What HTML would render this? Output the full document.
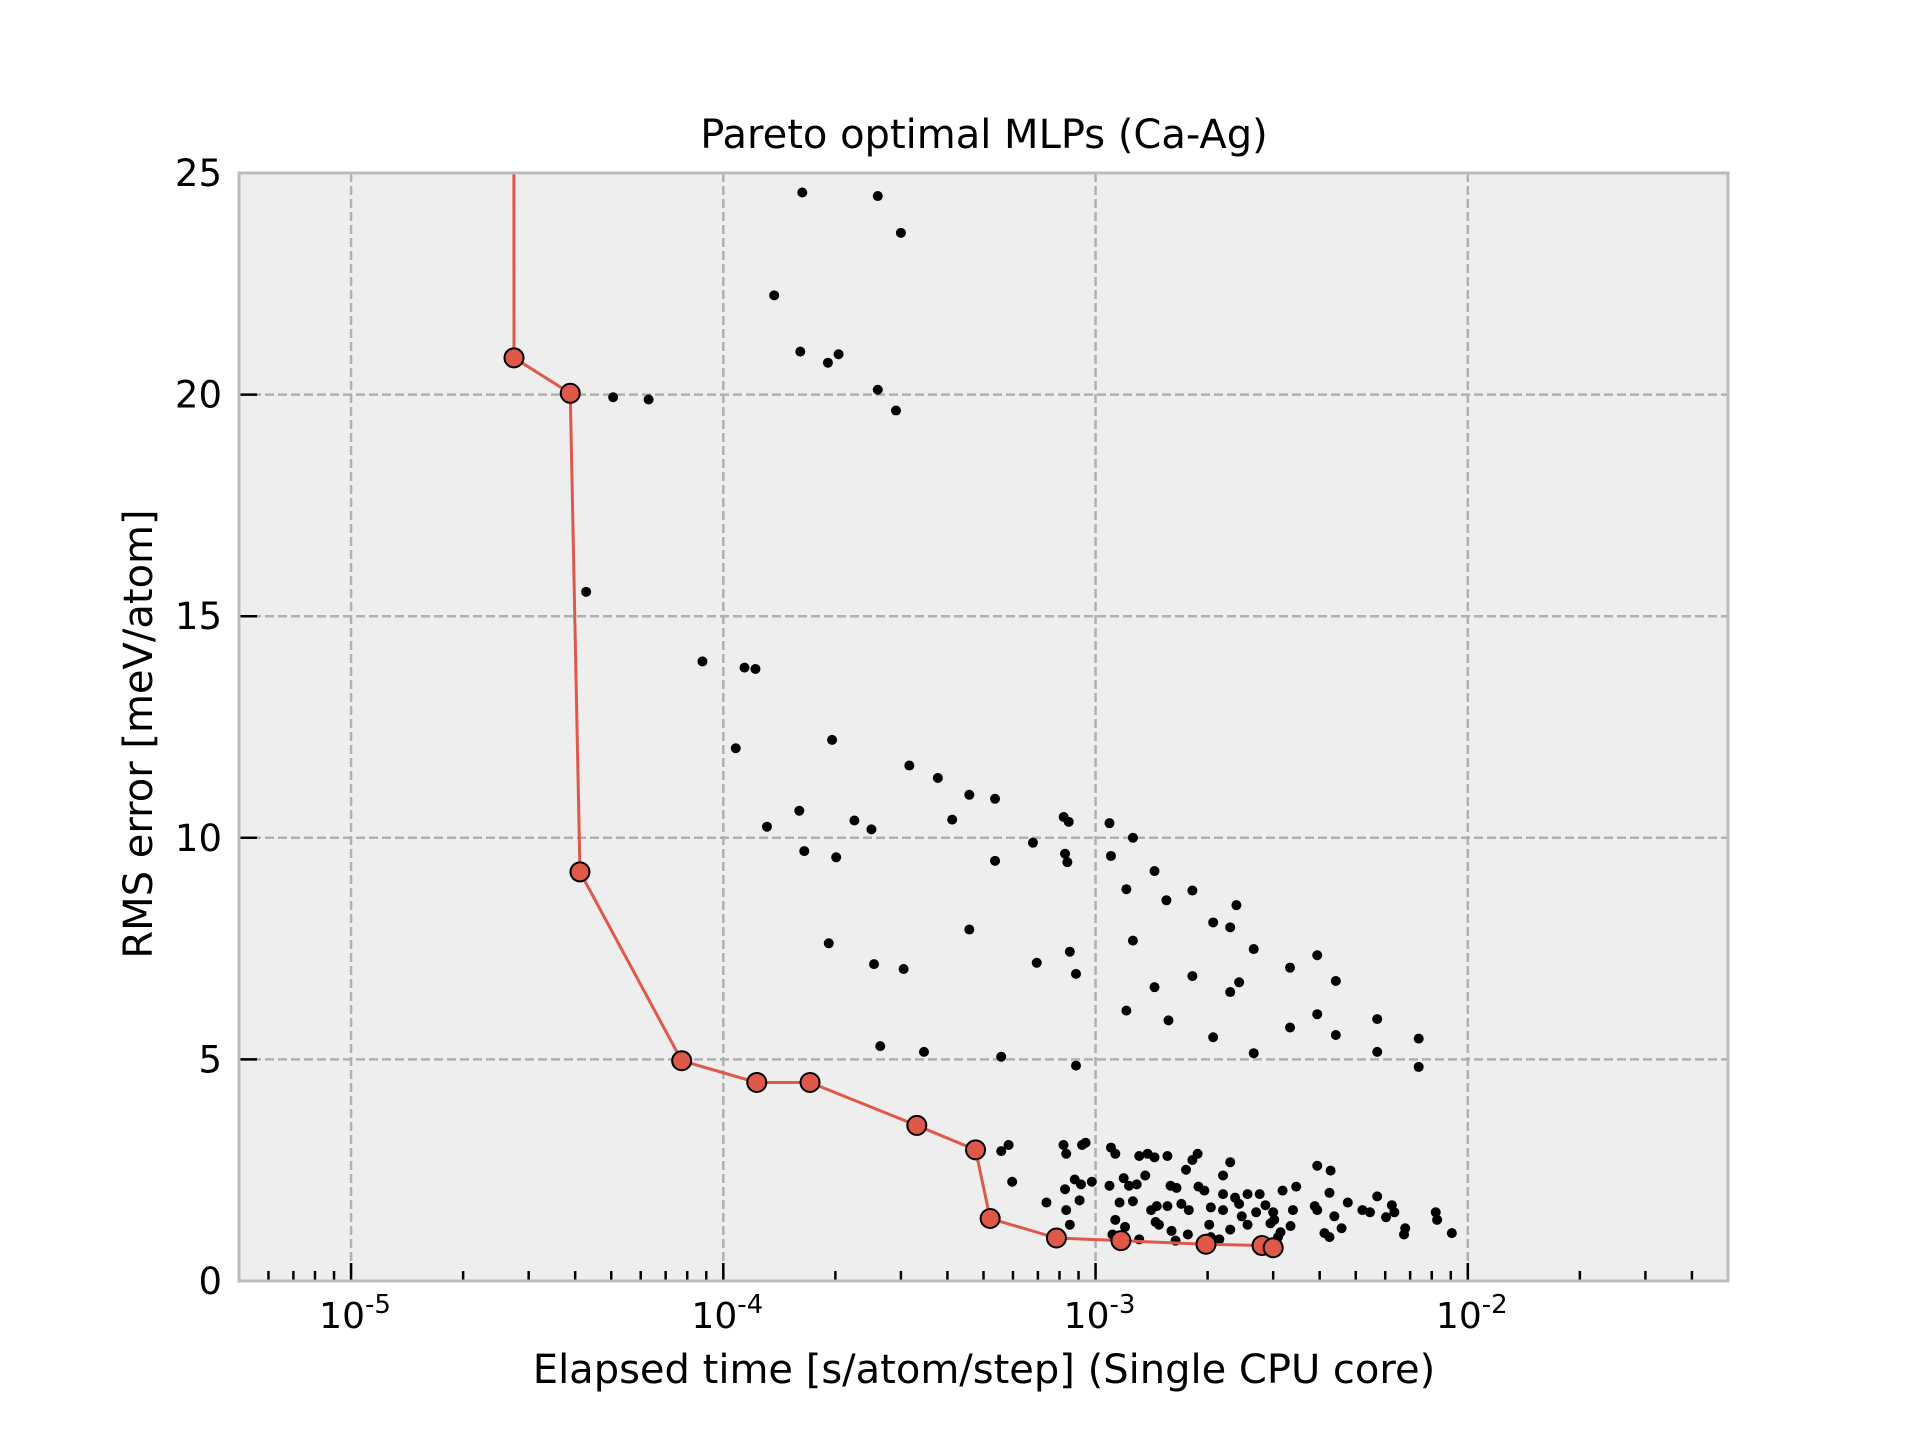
<!DOCTYPE html>
<html><head><meta charset="utf-8"><style>
html,body{margin:0;padding:0;background:#fff;}
svg text{font-family:"DejaVu Sans","Liberation Sans",sans-serif;fill:#000;}
</style></head><body>
<svg id="chart" width="1920" height="1440" xmlns="http://www.w3.org/2000/svg">
<rect x="239" y="173" width="1489" height="1108" fill="#eeeeee"/>
<g id="grid"></g>
<g id="ticks"></g>
<g id="marks" clip-path="url(#clip)"></g>
<defs><clipPath id="clip"><rect x="239" y="173" width="1489" height="1108"/></clipPath></defs>
<rect x="239" y="173" width="1489" height="1108" fill="none" stroke="#bcbcbc" stroke-width="3"/>
<g id="labels"></g>
<text x="984" y="148" font-size="40" text-anchor="middle">Pareto optimal MLPs (Ca-Ag)</text>
<text x="984" y="1383" font-size="40" text-anchor="middle">Elapsed time [s/atom/step] (Single CPU core)</text>
<text x="0" y="0" font-size="40" text-anchor="middle" transform="translate(152,734) rotate(-90)">RMS error [meV/atom]</text>
</svg>
<script>
const yTicks=[0,5,10,15,20,25];
const xDecades=[-5,-4,-3,-2];
const paretoTime=[2.72e-5,2.74e-5,3.88e-5,4.12e-5,7.73e-5,1.23e-4,1.71e-4,3.31e-4,4.76e-4,5.21e-4,7.85e-4,1.17e-3,1.98e-3,2.80e-3,3.0e-3];
const paretoErr=[60,20.83,20.03,9.23,4.97,4.48,4.48,3.51,2.96,1.41,0.97,0.91,0.83,0.80,0.75];
const scatterTime=[1.63e-4,2.60e-4,3.0e-4,1.37e-4,1.61e-4,2.04e-4,1.91e-4,2.60e-4,2.91e-4,5.06e-5,6.30e-5,4.28e-5,8.79e-5,1.14e-4,1.22e-4,1.08e-4,1.96e-4,3.16e-4,3.77e-4,4.58e-4,5.37e-4,1.60e-4,1.31e-4,2.25e-4,2.50e-4,4.12e-4,8.21e-4,8.47e-4,1.09e-3,1.26e-3,1.65e-4,2.01e-4,5.37e-4,6.79e-4,8.28e-4,8.40e-4,1.10e-3,1.44e-3,1.21e-3,1.82e-3,1.55e-3,2.39e-3,2.07e-3,2.30e-3,1.92e-4,4.58e-4,1.26e-3,2.66e-3,8.53e-4,3.94e-3,6.95e-4,2.54e-4,3.05e-4,3.33e-3,8.86e-4,1.82e-3,2.43e-3,4.42e-3,1.44e-3,2.30e-3,1.21e-3,3.94e-3,1.57e-3,5.71e-3,3.33e-3,4.42e-3,2.07e-3,7.38e-3,2.64e-4,3.46e-4,2.66e-3,5.71e-3,5.58e-4,7.38e-3,8.86e-4,
5.84e-4,5.58e-4,8.20e-4,9.20e-4,9.4e-4,1.10e-3,1.13e-3,8.34e-4,1.31e-3,1.38e-3,1.44e-3,1.56e-3,1.88e-3,1.82e-3,2.30e-3,2.76e-3,5.97e-4,8.28e-4,8.79e-4,9.14e-4,9.77e-4,1.09e-3,1.19e-3,1.23e-3,1.29e-3,1.36e-3,1.59e-3,1.65e-3,1.89e-3,1.96e-3,2.20e-3,3.18e-3,3.46e-3,3.94e-3,4.28e-3,4.25e-3,4.76e-3,5.71e-3,6.25e-3,6.03e-3,6.79e-3,8.20e-3,8.27e-3,9.06e-3,6.74e-3,7.38e-4,8.34e-4,9.06e-4,1.13e-3,1.16e-3,1.26e-3,1.41e-3,1.46e-3,1.56e-3,1.70e-3,1.78e-3,2.04e-3,2.20e-3,2.43e-3,2.86e-3,3.00e-3,3.39e-3,3.94e-3,4.38e-3,4.58e-3,5.21e-3,6.35e-3,1.11e-3,1.20e-3,1.48e-3,1.60e-3,1.77e-3,2.02e-3,2.30e-3,2.56e-3,2.95e-3,3.14e-3,3.34e-3,4.12e-3,5.46e-3,3.88e-3,4.25e-3,8.53e-4,1.31e-3,1.64e-3,2.15e-3,3.09e-3,2.04e-3,2.47e-3,2.70e-3,3.02e-3,2.56e-3,2.37e-3,1.45e-3,1.75e-3,2.20e-3];
const scatterErr=[24.56,24.48,23.65,22.24,20.97,20.91,20.72,20.11,19.64,19.94,19.89,15.55,13.98,13.84,13.81,12.02,12.21,11.63,11.35,10.97,10.88,10.61,10.25,10.39,10.19,10.41,10.47,10.36,10.33,10.0,9.70,9.56,9.48,9.89,9.64,9.45,9.59,9.25,8.84,8.81,8.59,8.48,8.09,7.98,7.62,7.93,7.68,7.49,7.43,7.35,7.18,7.15,7.04,7.07,6.93,6.88,6.74,6.77,6.63,6.52,6.10,6.02,5.88,5.91,5.72,5.55,5.50,5.47,5.30,5.17,5.14,5.17,5.06,4.83,4.86,
3.07,2.93,3.07,3.07,3.12,3.01,2.87,2.87,2.82,2.87,2.79,2.82,2.87,2.73,2.68,1.96,2.24,2.07,2.29,2.18,2.24,2.15,2.32,2.15,2.18,2.38,2.15,2.10,2.13,2.04,1.96,2.04,2.13,2.60,2.49,1.99,1.77,1.91,1.71,1.44,1.19,1.55,1.38,1.08,1.05,1.77,1.60,1.82,1.38,1.77,1.80,1.60,1.69,1.69,1.74,1.60,1.66,1.60,1.74,1.71,1.55,1.60,1.60,1.46,1.19,1.60,1.55,1.05,1.22,1.27,1.13,1.05,1.27,1.16,1.27,1.30,1.10,1.24,1.08,1.55,1.69,0.99,1.27,0.94,0.91,0.94,0.99,0.99,1.46,1.55,1.38,1.96,1.88,1.33,2.51,2.38];

const NS='http://www.w3.org/2000/svg';
const L=239,R=1728,T=173,B=1281;
const xMinLog=Math.log10(5e-6),xMaxLog=Math.log10(5e-2);
function xs(v){return L+(Math.log10(v)-xMinLog)/(xMaxLog-xMinLog)*(R-L);}
function ys(v){return B-(v-0)/(25-0)*(B-T);}
function mk(tag,attrs,parent){const e=document.createElementNS(NS,tag);for(const k in attrs)e.setAttribute(k,attrs[k]);parent.appendChild(e);return e;}
const grid=document.getElementById('grid'),ticks=document.getElementById('ticks'),marks=document.getElementById('marks'),labels=document.getElementById('labels');

yTicks.forEach(v=>{
  const y=ys(v);
  if(v>0&&v<25){const g=mk('line',{x1:L,x2:R,y1:y,y2:y,stroke:'#b0b0b0','stroke-width':2.5,'stroke-dasharray':'9,4'},grid);
  
  }
  const t=mk('line',{x1:L,x2:L+18,y1:y,y2:y,stroke:'#000','stroke-width':2.5},ticks);
  
  
  const lb=mk('text',{x:222,y:y+13,'font-size':37,'text-anchor':'end'},labels);
  lb.textContent=String(v);
  
  
});
for(let d=-6;d<=-2;d++){
  for(let m=1;m<=9;m++){
    const v=m*Math.pow(10,d);
    if(v<5e-6||v>5e-2)continue;
    const x=xs(v);
    const t=mk('line',{x1:x,x2:x,y1:B,y2:B-(m===1?18:10),stroke:'#000','stroke-width':2.5},ticks);
    
    
  }
}
xDecades.forEach(d=>{
  const x=xs(Math.pow(10,d));
  const g=mk('line',{x1:x,x2:x,y1:T,y2:B,stroke:'#b0b0b0','stroke-width':2.5,'stroke-dasharray':'9,4'},grid);
  
  
  const lb=mk('text',{x:x+4,y:1328,'font-size':36,'text-anchor':'middle'},labels);
  
  
  lb.textContent='10';
  const sp=mk('tspan',{dy:-15,'font-size':26},lb);
  sp.textContent=String(d);
});
scatterTime.forEach((t,i)=>{
  const c=mk('circle',{cx:xs(t),cy:ys(scatterErr[i]),r:5,fill:'#000'},marks);
  
  
});
const pl=mk('polyline',{points:paretoTime.map((t,i)=>xs(t)+','+ys(paretoErr[i])).join(' '),fill:'none',stroke:'#e0584a','stroke-width':3},marks);


paretoTime.forEach((t,i)=>{
  const c=mk('circle',{cx:xs(t),cy:ys(paretoErr[i]),r:9.5,fill:'#e0584a',stroke:'#000','stroke-width':2},marks);
  
  
});
</script>
</body></html>
